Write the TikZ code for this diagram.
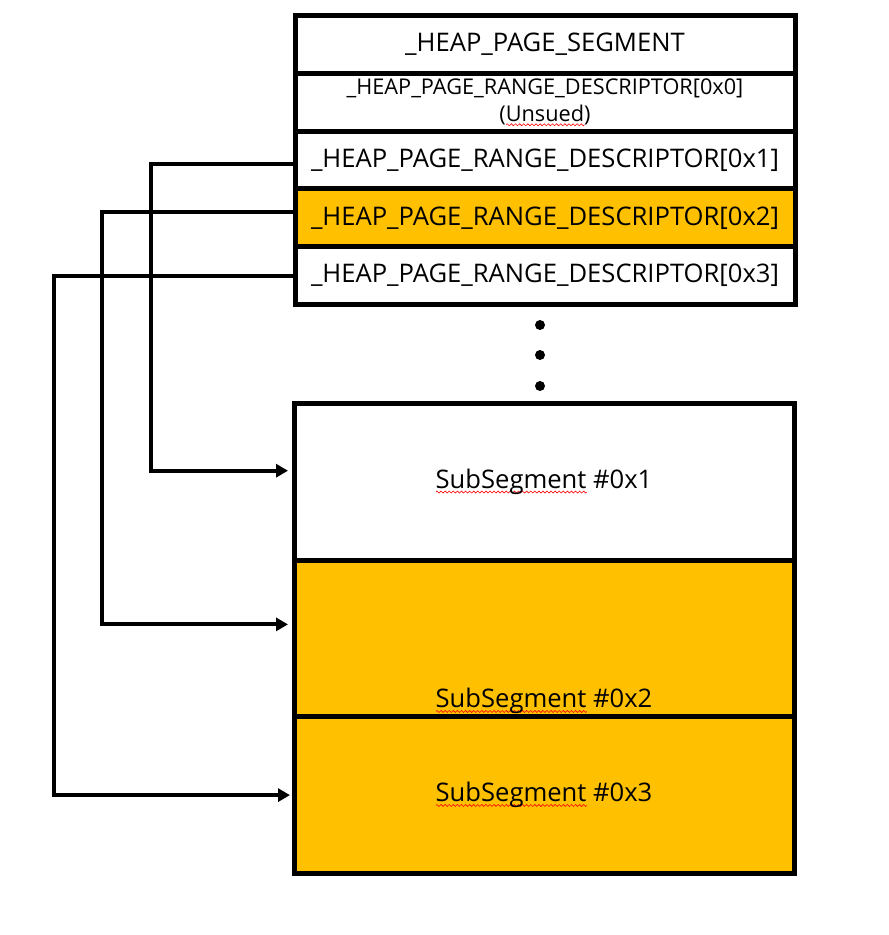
\documentclass[tikz,border=0pt]{standalone}
\usepackage{fontspec}
\setmainfont{Open Sans}
\usetikzlibrary{arrows.meta,positioning}
\definecolor{heapgold}{RGB}{255,192,0}
\newsavebox\wavebit
\newsavebox\typobox
\newcommand\typo[1]{\sbox\typobox{#1}\rlap{\lower5pt\hbox to\wd\typobox{\xleaders\copy\wavebit\hfill}}\usebox\typobox}

\begin{document}
\sbox\wavebit{\pgfpicture
    \pgfsetlinewidth{0.6pt}\pgfsetstrokecolor{red}
    \pgfpathmoveto{\pgfpoint{0pt}{0pt}}
    \pgfpathlineto{\pgfpoint{1pt}{1pt}}
    \pgfpathlineto{\pgfpoint{2pt}{0pt}}
    \pgfpathlineto{\pgfpoint{3pt}{-1pt}}
    \pgfpathlineto{\pgfpoint{4pt}{0pt}}
    \pgfusepath{stroke}
    \pgfusepath{use as bounding box}
\endpgfpicture}
\wd\wavebit=4pt
\begin{tikzpicture}[x=1pt,y=-1pt,
    row/.style={draw,line width=5pt,minimum width=500pt,minimum height=57.8pt,outer sep=0pt,inner sep=0pt,font=\fontsize{25.6}{30}\selectfont},
    sub/.style={row,minimum height=156.7pt},
    link/.style={-{Triangle[length=12pt,width=13pt]},line width=4pt,line join=miter}]
    \useasboundingbox (0,0) rectangle (889,935);

    \node[row] (seg) at (545,44.4) {\_HEAP\_PAGE\_SEGMENT};
    \node[row,below=0pt of seg,align=center,font=\fontsize{21.7}{27}\selectfont] (desc0) {\_HEAP\_PAGE\_RANGE\_DESCRIPTOR[0x0]\\(\typo{Unsued})};
    \node[row,below=0pt of desc0] (desc1) {\_HEAP\_PAGE\_RANGE\_DESCRIPTOR[0x1]};
    \node[row,below=0pt of desc1,fill=heapgold] (desc2) {\_HEAP\_PAGE\_RANGE\_DESCRIPTOR[0x2]};
    \node[row,below=0pt of desc2] (desc3) {\_HEAP\_PAGE\_RANGE\_DESCRIPTOR[0x3]};

    \foreach \y in {325,355,386}
        \fill (540,\y) circle (5pt);

    \node[sub] (sub1) at (544,481.7) {\typo{SubSegment} \#0x1};
    \node[sub,below=0pt of sub1,fill=heapgold,
        label={[anchor=base,yshift=9pt,font=\fontsize{25.6}{30}\selectfont]south:\typo{SubSegment} \#0x2}] (sub2) {};
    \node[sub,below=0pt of sub2,fill=heapgold] (sub3) {\typo{SubSegment} \#0x3};

    \draw[link] ([yshift=-4pt]desc1.west) -- ++(-144,0) |- ([yshift=11pt,xshift=-6pt]sub1.west);
    \draw[link] ([yshift=5.5pt]desc2.west) -- ++(-193,0) |- ([yshift=14pt,xshift=-6pt]sub2.west);
    \draw[link] (desc3.west) -- ++(-241,0) |- ([xshift=-4pt]sub3.west);
\end{tikzpicture}
\end{document}
